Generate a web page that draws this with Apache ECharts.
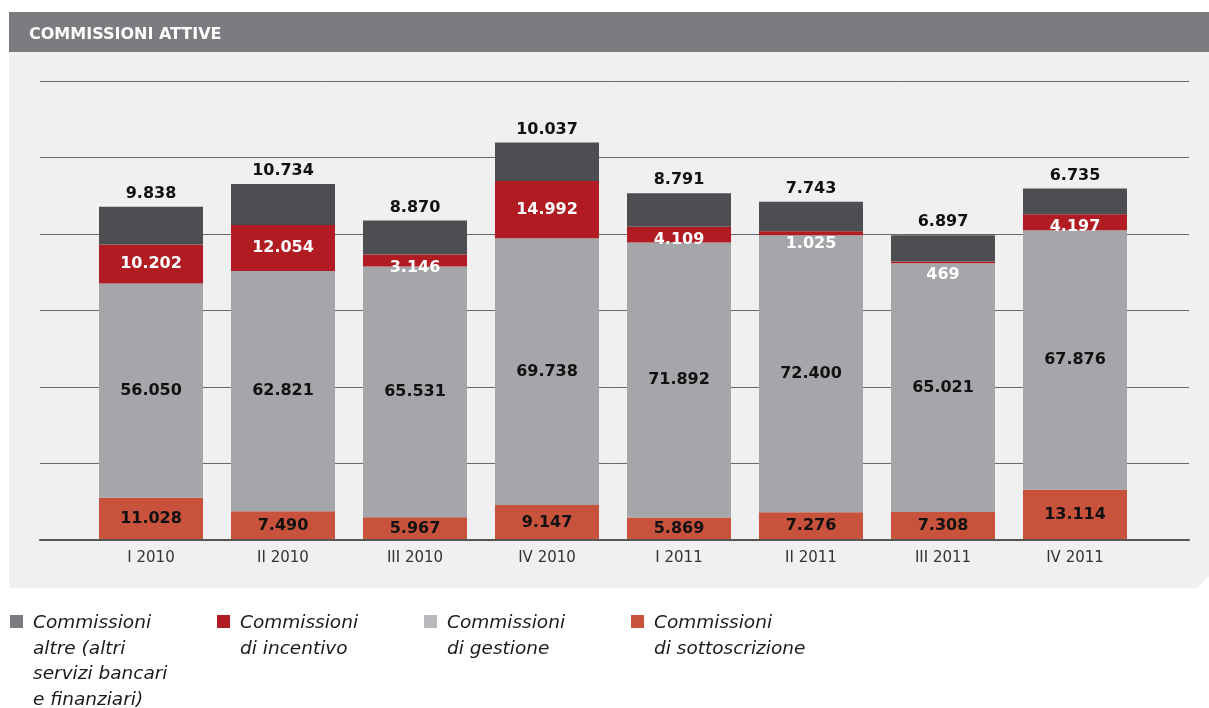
<!DOCTYPE html>
<html>
<head>
<meta charset="utf-8">
<script src="https://cdn.jsdelivr.net/npm/echarts@6/dist/echarts.min.js"></script>
<style>html,body{margin:0;padding:0;background:#fff;}#c{width:1209px;height:708px;}</style>
</head>
<body>
<div id="c"></div>
<script>
const categories = ['I 2010','II 2010','III 2010','IV 2010','I 2011','II 2011','III 2011','IV 2011'];
const sottoscrizione = [11028, 7490, 5967, 9147, 5869, 7276, 7308, 13114];
const gestione = [56050, 62821, 65531, 69738, 71892, 72400, 65021, 67876];
const incentivo = [10202, 12054, 3146, 14992, 4109, 1025, 469, 4197];
const altre = [9838, 10734, 8870, 10037, 8791, 7743, 6897, 6735];
const yTicks = [0, 20000, 40000, 60000, 80000, 100000, 120000];

const names = {
  altre: 'Commissioni\naltre (altri\nservizi bancari\ne finanziari)',
  incentivo: 'Commissioni\ndi incentivo',
  gestione: 'Commissioni\ndi gestione',
  sottoscrizione: 'Commissioni\ndi sottoscrizione'
};
function fmt(v){ return String(v).replace(/\B(?=(\d{3})+(?!\d))/g, '.'); }
const labelFont = { fontFamily: 'DejaVu Sans', fontWeight: 'bold', fontSize: 16 };
const LH = 25.5;

function legendFor(name, left, iconColor){
  const lines = name.split('\n').length;
  const H = lines * LH;
  const sq = (LH - 13) / 2 - 2;
  return {
    left: left, top: 615 - sq, orient: 'vertical', itemWidth: 13, itemHeight: H,
    selectedMode: false, padding: 0,
    icon: 'path://M0,0L0,0M0,' + sq + 'h13v13h-13zM13,' + H + 'L13,' + H,
    data: [{ name: name, itemStyle: { color: iconColor } }],
    textStyle: { fontFamily: 'DejaVu Sans', fontStyle: 'italic', fontSize: 18.5, color: '#1a1a1a', lineHeight: LH,
      padding: [0, 0, 0, 5] }
  };
}

const chart = echarts.init(document.getElementById('c'));
chart.setOption({
  animation: false,
  backgroundColor: '#ffffff',
  title: {
    text: 'COMMISSIONI ATTIVE', left: 29, top: 27, padding: 0,
    textStyle: { color: '#ffffff', fontFamily: 'DejaVu Sans', fontWeight: 'bold', fontSize: 16, lineHeight: 16 }
  },
  graphic: [
    { type: 'rect', z: -10, silent: true, shape: { x: 9, y: 12, width: 1200, height: 40 }, style: { fill: '#7a7c7f' } },
    { type: 'polygon', z: -10, silent: true, shape: { points: [[9,52],[1209,52],[1209,576],[1197,588],[9,588]] }, style: { fill: '#f0f0f0' } }
  ],
  legend: [
    legendFor(names.altre, 10, '#7b7c7f'),
    legendFor(names.incentivo, 217, '#b01c22'),
    legendFor(names.gestione, 424, '#b8b9bd'),
    legendFor(names.sottoscrizione, 631, '#c8523b')
  ],
  grid: [
    { left: 40, right: 20, top: 81, bottom: 168 },
    { left: 85, width: 1056, top: 81, bottom: 168 }
  ],
  xAxis: [
    { gridIndex: 0, type: 'value', min: 0, max: 1, axisLabel: { show: false }, axisTick: { show: false }, splitLine: { show: false },
      axisLine: { show: true, lineStyle: { color: '#555555', width: 2 } }, z: 5 },
    { gridIndex: 1, type: 'category', data: categories, axisLine: { show: false }, axisTick: { show: false },
      axisLabel: { color: '#333333', fontFamily: 'DejaVu Sans', fontSize: 15, margin: 11 } }
  ],
  yAxis: [
    { gridIndex: 0, type: 'value', min: yTicks[0], max: yTicks[yTicks.length-1], interval: yTicks[1] - yTicks[0],
      axisLabel: { show: false }, axisLine: { show: false }, axisTick: { show: false },
      splitLine: { show: true, lineStyle: { color: '#686868', width: 1 } } },
    { gridIndex: 1, type: 'value', min: yTicks[0], max: yTicks[yTicks.length-1], interval: yTicks[1] - yTicks[0],
      show: false, splitLine: { show: false } }
  ],
  series: [
    { name: names.sottoscrizione, type: 'bar', stack: 's', xAxisIndex: 1, yAxisIndex: 1, barWidth: 104,
      itemStyle: { color: '#c8523b' }, data: sottoscrizione,
      label: Object.assign({ show: true, position: 'inside', color: '#111111', formatter: p => fmt(p.value) }, labelFont) },
    { name: names.gestione, type: 'bar', stack: 's', xAxisIndex: 1, yAxisIndex: 1, barWidth: 104,
      itemStyle: { color: '#a5a6aa' }, data: gestione,
      label: Object.assign({ show: true, position: 'inside', color: '#111111', formatter: p => fmt(p.value) }, labelFont) },
    { name: names.incentivo, type: 'bar', stack: 's', xAxisIndex: 1, yAxisIndex: 1, barWidth: 104,
      itemStyle: { color: '#b01c22' },
      data: incentivo.map(v => v < 5000 ? { value: v, label: { position: 'insideTop', distance: 5 } } : v),
      label: Object.assign({ show: true, position: 'inside', color: '#ffffff', formatter: p => fmt(p.value) }, labelFont) },
    { name: names.altre, type: 'bar', stack: 's', xAxisIndex: 1, yAxisIndex: 1, barWidth: 104,
      itemStyle: { color: '#4d4e52' }, data: altre,
      label: Object.assign({ show: true, position: 'top', distance: 5, color: '#111111', formatter: p => fmt(p.value) }, labelFont) }
  ]
});
</script>
</body>
</html>
